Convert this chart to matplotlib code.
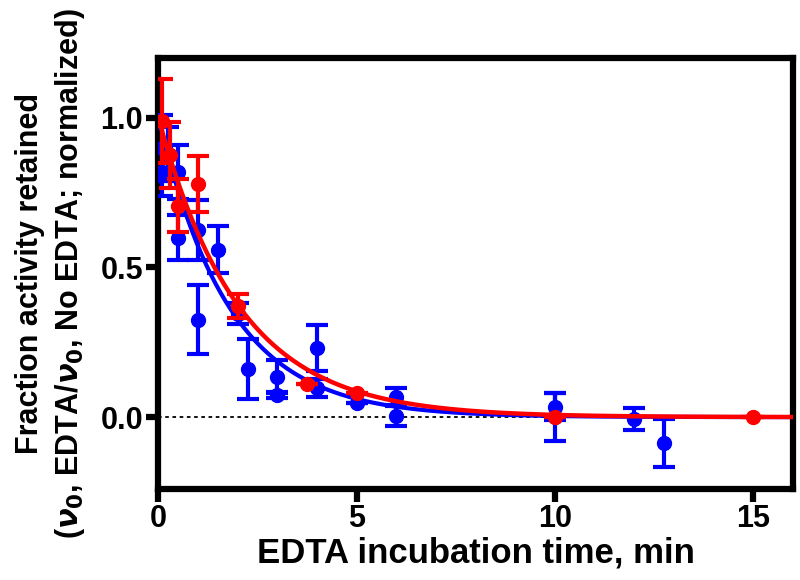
import numpy as np
import matplotlib
matplotlib.use('Agg')
import matplotlib.pyplot as plt

plt.rcParams['font.family'] = ['Liberation Sans', 'DejaVu Sans']
plt.rcParams['font.weight'] = 'bold'

# blue series (time, fraction retained, error)
blue_t = [0.1, 0.1, 0.25, 0.5, 0.5, 1.0, 1.0, 1.5, 2.0, 2.25, 3.0, 3.0, 4.0, 4.0, 5.0, 6.0, 6.0, 10.0, 10.0, 12.0, 12.75]
blue_y = [0.82, 0.90, 0.88, 0.82, 0.60, 0.625, 0.325, 0.56, 0.345, 0.16, 0.135, 0.075, 0.23, 0.097, 0.047, 0.066, 0.005, 0.035, 0.0, -0.005, -0.087]
blue_err = [0.08, 0.11, 0.09, 0.09, 0.075, 0.10, 0.115, 0.08, 0.035, 0.10, 0.055, 0.01, 0.077, 0.03, 0.0, 0.03, 0.035, 0.045, 0.08, 0.037, 0.08]

# red series
red_t = [0.1, 0.3, 0.5, 1.0, 2.0, 3.75, 5.0, 10.0, 15.0]
red_y = [0.99, 0.875, 0.707, 0.78, 0.37, 0.112, 0.082, 0.0, 0.0]
red_err = [0.14, 0.11, 0.09, 0.093, 0.04, 0.0, 0.0, 0.0, 0.0]

# one-phase decay fits: y = y0 * exp(-k t)
blue_fit = (1.0, 0.56)
red_fit = (1.0, 0.49)

fig = plt.figure(figsize=(8, 5.8), dpi=100)
ax = fig.add_axes([0.198, 0.157, 0.793, 0.743])

t = np.linspace(0, 16, 400)
ax.axhline(0, color='black', linestyle=(0, (2, 2)), linewidth=1.3, zorder=1)

ax.errorbar(blue_t, blue_y, yerr=blue_err, fmt='o', color='#0000ff', markersize=10,
            elinewidth=3, capsize=8, capthick=3, zorder=3)
ax.plot(t, blue_fit[0] * np.exp(-blue_fit[1] * t), color='#0000ff', linewidth=3, zorder=3)

ax.errorbar(red_t, red_y, yerr=red_err, fmt='o', color='#ff0000', markersize=10,
            elinewidth=3, capsize=8, capthick=3, zorder=4)
ax.plot(t, red_fit[0] * np.exp(-red_fit[1] * t), color='#ff0000', linewidth=3.2, zorder=4)

ax.set_xlim(0, 16)
ax.set_ylim(-0.24, 1.2)
ax.set_xticks([0, 5, 10, 15])
ax.set_yticks([0.0, 0.5, 1.0])
ax.set_yticklabels(['0.0', '0.5', '1.0'])

for s in ax.spines.values():
    s.set_linewidth(4.5)
ax.tick_params(width=4.5, length=9, labelsize=22, pad=2)

ax.set_xlabel('EDTA incubation time, min', fontsize=25, fontweight='bold', labelpad=2)
ax.set_ylabel('Fraction activity retained\n'
              r'($\nu_0$, EDTA/$\nu_0$, No EDTA; normalized)',
              fontsize=22, fontweight='bold', labelpad=10, linespacing=1.3)

fig.savefig('out.png', dpi=100)
